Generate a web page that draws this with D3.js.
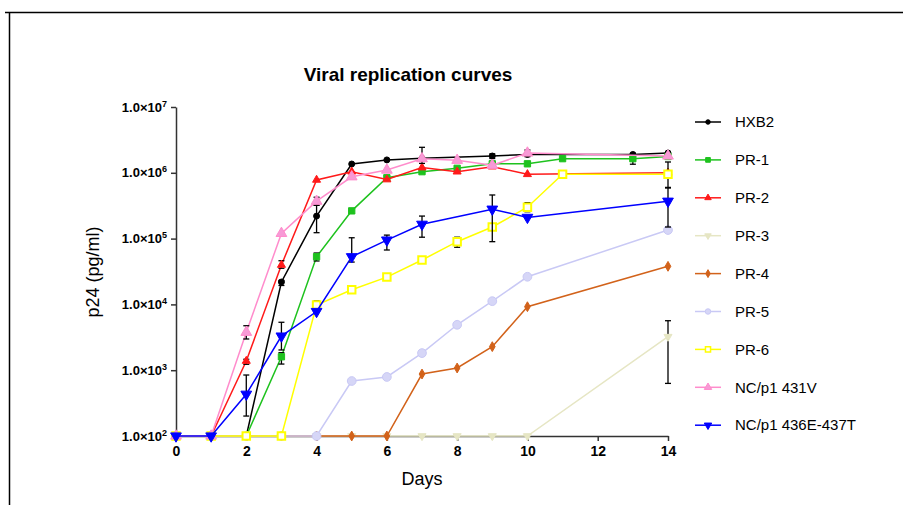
<!DOCTYPE html>
<html>
<head>
<meta charset="utf-8">
<script src="https://cdn.jsdelivr.net/npm/d3@7"></script>
<style>
  body { margin: 0; background: #fff; }
  svg { display: block; font-family: "Liberation Sans", Arial, sans-serif; }
</style>
</head>
<body>
<svg width="903" height="505"></svg>
<script>
// ---- data ----
const seriesNames = ['HXB2', 'PR-1', 'PR-2', 'PR-3', 'PR-4', 'PR-5', 'PR-6', 'NC/p1 431V', 'NC/p1 436E-437T'];

const hxb2Days = [0, 1, 2, 3, 4, 5, 6, 7, 9, 10, 13, 14];
const hxb2Values = [100, 100, 100, 21900, 220000, 1360000, 1570000, 1660000, 1800000, 1900000, 1900000, 2000000];
const hxb2Err = [[3, 19400, 23100], [4, 123000, 320000], [9, 1650000, 1940000]];

const pr1Days = [0, 1, 2, 3, 4, 5, 6, 7, 8, 9, 10, 11, 13, 14];
const pr1Values = [100, 100, 100, 1600, 53000, 264000, 840000, 1040000, 1170000, 1370000, 1370000, 1640000, 1640000, 1770000];
const pr1Err = [[3, 1240, 1845], [4, 45700, 60400], [13, 1350000, 1980000]];

const pr2Days = [0, 1, 2, 3, 4, 5, 6, 7, 8, 9, 10, 14];
const pr2Values = [100, 100, 1380, 39700, 780000, 1040000, 790000, 1200000, 1040000, 1240000, 950000, 1000000];
const pr2Err = [[2, 1230, 1466], [3, 35400, 46100]];

const pr3Days = [0, 1, 2, 3, 4, 5, 6, 7, 8, 9, 10, 14];
const pr3Values = [100, 100, 100, 100, 100, 100, 100, 100, 100, 100, 100, 3230];
const pr3Err = [[14, 630, 5650]];

const pr4Days = [0, 1, 2, 3, 4, 5, 6, 7, 8, 9, 10, 14];
const pr4Values = [100, 100, 100, 100, 100, 100, 100, 875, 1080, 2280, 9230, 37900];
const pr4Err = [];

const pr5Days = [0, 1, 2, 3, 4, 5, 6, 7, 8, 9, 10, 14];
const pr5Values = [100, 100, 100, 100, 100, 685, 789, 1820, 4900, 11200, 26300, 135000];
const pr5Err = [];

const pr6Days = [0, 1, 2, 3, 4, 5, 6, 7, 8, 9, 10, 11, 14];
const pr6Values = [100, 100, 100, 100, 9800, 16700, 26000, 47300, 89700, 150000, 300000, 950000, 950000];
const pr6Err = [[4, 9460, 11300], [8, 73800, 105000], [10, 256000, 352000], [11, 824000, 1000000], [14, 587000, 1460000]];

const nc431Days = [0, 1, 2, 3, 4, 5, 6, 7, 8, 9, 10, 14];
const nc431Values = [100, 100, 3770, 120000, 370000, 870000, 1100000, 1640000, 1550000, 1300000, 2000000, 1800000];
const nc431Err = [[2, 2980, 4740], [4, 324000, 425000], [7, 1390000, 2440000], [10, 1760000, 2220000]];

const nc436Days = [0, 1, 2, 3, 4, 5, 6, 7, 9, 10, 14];
const nc436Values = [100, 100, 431, 3300, 7800, 53000, 95000, 165000, 280000, 210000, 370000];
const nc436Err = [[2, 201, 845], [3, 2030, 5350], [5, 44000, 103000], [6, 67100, 113000], [7, 105000, 220000], [9, 89800, 460000], [14, 150000, 600000]];

const xTicks = [0, 2, 4, 6, 8, 10, 12, 14];
const yTickExponents = [2, 3, 4, 5, 6, 7];

// ---- styling per series ----
const triDown = {
  draw(ctx, size) {
    const y = Math.sqrt(size / (3 * Math.sqrt(3)));
    ctx.moveTo(0, 2 * y);
    ctx.lineTo(-Math.sqrt(3) * y, -y);
    ctx.lineTo(Math.sqrt(3) * y, -y);
    ctx.closePath();
  }
};

const styles = [
  { color: '#000000', shape: d3.symbolCircle, size: 28, fill: '#000000', leg: 16 },
  { color: '#1ec21e', shape: d3.symbolSquare, size: 40, fill: '#1ec21e', leg: 22 },
  { color: '#ff1a1a', shape: d3.symbolTriangle, size: 28, fill: '#ff1a1a', leg: 18 },
  { color: '#e6e6c4', shape: triDown, size: 28, fill: '#e6e6c4', leg: 18 },
  { color: '#d2621a', shape: d3.symbolDiamond, size: 28, fill: '#d2621a', leg: 18 },
  { color: '#c9c9f5', shape: d3.symbolCircle, size: 60, fill: '#d6d6f7', leg: 24 },
  { color: '#ffff00', shape: d3.symbolSquare, size: 56, fill: '#ffffff', sw: 2, leg: 26 },
  { color: '#ff8ccc', shape: d3.symbolTriangle, size: 50, fill: '#f79ad6', leg: 24 },
  { color: '#0000ff', shape: triDown, size: 50, fill: '#0000ff', leg: 24 }
];

const allDays = [hxb2Days, pr1Days, pr2Days, pr3Days, pr4Days, pr5Days, pr6Days, nc431Days, nc436Days];
const allValues = [hxb2Values, pr1Values, pr2Values, pr3Values, pr4Values, pr5Values, pr6Values, nc431Values, nc436Values];
const allErr = [hxb2Err, pr1Err, pr2Err, pr3Err, pr4Err, pr5Err, pr6Err, nc431Err, nc436Err];

const series = seriesNames.map((name, i) => ({
  name,
  style: styles[i],
  points: allDays[i].map((d, j) => ({ day: d, value: allValues[i][j] })),
  err: allErr[i].map(e => ({ day: e[0], lo: e[1], hi: e[2] }))
}));

// ---- chart ----
const svg = d3.select('svg');

// page frame
svg.append('line').attr('x1', 5).attr('x2', 903).attr('y1', 12.5).attr('y2', 12.5)
  .attr('stroke', '#000').attr('stroke-width', 1.5);
svg.append('line').attr('x1', 9.5).attr('x2', 9.5).attr('y1', 12).attr('y2', 505)
  .attr('stroke', '#000').attr('stroke-width', 1.5);

const xScale = d3.scaleLinear().domain([0, 14]).range([176, 668]);
const yScale = d3.scaleLog().domain([100, 1e7]).range([436, 107]);

svg.append('text')
  .attr('x', 408).attr('y', 81)
  .attr('text-anchor', 'middle')
  .attr('font-size', 19).attr('font-weight', 'bold')
  .text('Viral replication curves');

// y axis
const yAxisG = svg.append('g')
  .attr('transform', 'translate(176,0)')
  .call(d3.axisLeft(yScale)
    .tickValues(yTickExponents.map(e => Math.pow(10, e)))
    .tickSize(5).tickSizeOuter(0).tickPadding(4)
    .tickFormat(''));
yAxisG.select('.domain').attr('stroke', '#333').attr('stroke-width', 1.5);
yAxisG.selectAll('.tick line').attr('stroke', '#333').attr('stroke-width', 1.5);
yAxisG.selectAll('.tick text')
  .data(yTickExponents)
  .attr('fill', '#000').attr('font-size', 13).attr('font-weight', 'bold')
  .attr('font-family', '"Liberation Sans", Arial, sans-serif')
  .each(function (e) {
    const t = d3.select(this);
    t.append('tspan').text('1.0×10');
    t.append('tspan').attr('font-size', 9).attr('dy', -5).text(e);
  });

// x axis
const xAxisG = svg.append('g')
  .attr('transform', 'translate(0,436)')
  .call(d3.axisBottom(xScale)
    .tickValues(xTicks)
    .tickSize(5).tickSizeOuter(0).tickPadding(5));
xAxisG.select('.domain').attr('stroke', '#333').attr('stroke-width', 1.5);
xAxisG.selectAll('.tick line').attr('stroke', '#333').attr('stroke-width', 1.5);
xAxisG.selectAll('.tick text')
  .attr('fill', '#000').attr('font-size', 14).attr('font-weight', 'bold')
  .attr('font-family', '"Liberation Sans", Arial, sans-serif');

svg.append('text')
  .attr('x', 422).attr('y', 485)
  .attr('text-anchor', 'middle')
  .attr('font-size', 18)
  .text('Days');

svg.append('text')
  .attr('transform', 'translate(99,272) rotate(-90)')
  .attr('text-anchor', 'middle')
  .attr('font-size', 18)
  .text('p24 (pg/ml)');

// lines, error bars, markers
const line = d3.line()
  .x(d => xScale(d.day))
  .y(d => yScale(d.value));

const seriesG = svg.append('g').selectAll('g').data(series).enter().append('g');

seriesG.append('path')
  .attr('d', d => line(d.points))
  .attr('fill', 'none')
  .attr('stroke', d => d.style.color)
  .attr('stroke-width', 1.5);

const errG = seriesG.selectAll('.err').data(d => d.err).enter().append('g').attr('class', 'err');
errG.append('line')
  .attr('x1', d => xScale(d.day)).attr('x2', d => xScale(d.day))
  .attr('y1', d => yScale(d.lo)).attr('y2', d => yScale(d.hi));
errG.append('line')
  .attr('x1', d => xScale(d.day) - 3).attr('x2', d => xScale(d.day) + 3)
  .attr('y1', d => yScale(d.lo)).attr('y2', d => yScale(d.lo));
errG.append('line')
  .attr('x1', d => xScale(d.day) - 3).attr('x2', d => xScale(d.day) + 3)
  .attr('y1', d => yScale(d.hi)).attr('y2', d => yScale(d.hi));
errG.selectAll('line').attr('stroke', '#000').attr('stroke-width', 1.3);

seriesG.each(function (s) {
  d3.select(this).selectAll('.mark').data(s.points).enter().append('path')
    .attr('class', 'mark')
    .attr('transform', d => `translate(${xScale(d.day)},${yScale(d.value)})`)
    .attr('d', d3.symbol().type(s.style.shape).size(s.style.size))
    .attr('fill', s.style.fill)
    .attr('stroke', s.style.color)
    .attr('stroke-width', s.style.sw || 1);
});

// legend
const legend = svg.append('g').selectAll('g').data(series).enter().append('g')
  .attr('transform', (d, i) => `translate(695,${122 + i * 37.9})`);
legend.append('line')
  .attr('x1', 0).attr('x2', 26)
  .attr('stroke', d => d.style.color).attr('stroke-width', 1.5);
legend.append('path')
  .attr('transform', 'translate(13,0)')
  .attr('d', d => d3.symbol().type(d.style.shape).size(d.style.leg)())
  .attr('fill', d => d.style.fill)
  .attr('stroke', d => d.style.color)
  .attr('stroke-width', d => d.style.sw ? 1.5 : 1);
legend.append('text')
  .attr('x', 40).attr('dy', '0.35em')
  .attr('font-size', 15)
  .text(d => d.name);
</script>
</body>
</html>
